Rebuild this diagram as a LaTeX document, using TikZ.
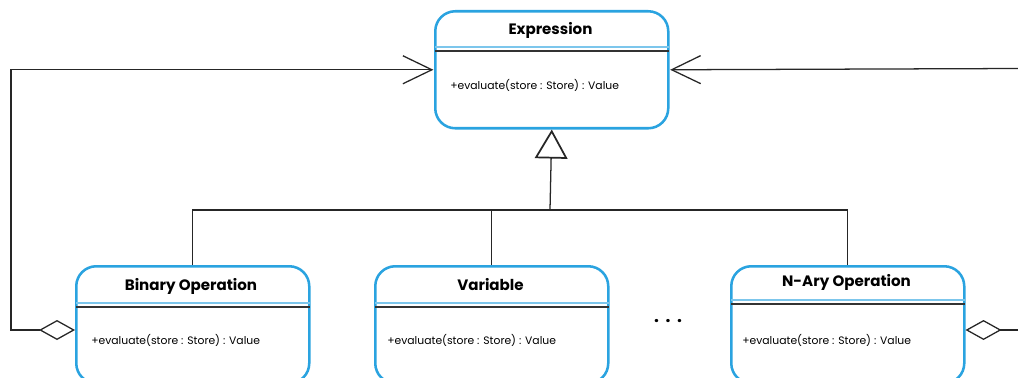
\documentclass[tikz,border=0pt]{standalone}
\usepackage{fontspec}
\setmainfont{Poppins}
\usetikzlibrary{arrows.meta,calc}
\definecolor{umlblue}{HTML}{2AA3E0}
\definecolor{seplight}{HTML}{7CC6EC}
\tikzset{
  cls/.style={draw=umlblue, line width=1.9pt, rounded corners=15pt, fill=white,
    minimum width=174.75pt, minimum height=87.75pt, inner sep=0pt, anchor=north west},
  title/.style={font=\bfseries\fontsize{11.3}{13}\selectfont, inner sep=0pt},
  meth/.style={font=\fontsize{8.1}{10}\selectfont, inner sep=0pt, anchor=west},
  sepblue/.style={draw=seplight, line width=0.8pt},
  sepblack/.style={draw=black!80, line width=0.9pt},
  conn/.style={draw=black!85, line width=0.95pt},
  barb/.style={-{Straight Barb[length=21.75pt, width=21pt, line width=0.95pt]}},
  inh/.style={-{Triangle[open, length=21.75pt, width=24.5pt, line width=1.3pt]}},
  agg/.style={{Diamond[open, length=27pt, width=15pt, line width=0.95pt]}-},
  aggbarb/.style={{Diamond[open, length=27pt, width=15pt, line width=0.95pt]}-{Straight Barb[length=21.75pt, width=21pt, line width=0.95pt]}}
}
\begin{document}
\begin{tikzpicture}[x=0.75pt,y=-0.75pt]
\useasboundingbox (0,0) rectangle (1018,378);
\clip (0,0) rectangle (1018,378);
\fill[white] (0,0) rectangle (1018,378);

% boxes
\node[cls] (expr) at (434,10) {};
\node[cls] (bin) at (75,265) {};
\node[cls] (var) at (374,265) {};
\node[cls] (nary) at (730,265) {};

% Expression
\node[title] (exprT) at (550.5,30) {Expression};
\draw[sepblue] ($(expr.north west)+(1,37)$) -- ($(expr.north east)+(-1,37)$);
\draw[sepblack] ($(expr.north west)+(1,41)$) -- ($(expr.north east)+(-1,41)$);
\node[meth] (exprM) at (450,85) {+evaluate(store : Store) : Value};

% Binary Operation
\node[title] (binT) at (191,286) {Binary Operation};
\draw[sepblue] ($(bin.north west)+(1,38)$) -- ($(bin.north east)+(-1,38)$);
\draw[sepblack] ($(bin.north west)+(1,42)$) -- ($(bin.north east)+(-1,42)$);
\node[meth] (binM) at (91,340) {+evaluate(store : Store) : Value};

% Variable
\node[title] (varT) at (490.5,285) {Variable};
\draw[sepblue] ($(var.north west)+(1,38)$) -- ($(var.north east)+(-1,38)$);
\draw[sepblack] ($(var.north west)+(1,42)$) -- ($(var.north east)+(-1,42)$);
\node[meth] (varM) at (387,340) {+evaluate(store : Store) : Value};

% N-Ary Operation
\node[title] (naryT) at (846.5,282) {N-Ary Operation};
\draw[sepblue] ($(nary.north west)+(1,35)$) -- ($(nary.north east)+(-1,35)$);
\draw[sepblack] ($(nary.north west)+(1,39)$) -- ($(nary.north east)+(-1,39)$);
\node[meth] (naryM) at (742,340) {+evaluate(store : Store) : Value};

% dots
\node[font=\bfseries\fontsize{13}{15}\selectfont, inner sep=0pt] (dots) at (668,321) {.\hspace{5pt}.\hspace{5pt}.};

% inheritance
\coordinate (bus) at (550,210);
\draw[conn] (bin.north) |- (bus);
\draw[conn] (var.north) |- (bus);
\draw[conn] (nary.north) |- (bus);
\draw[conn, inh] (bus) -- (expr.south);

% aggregations
\coordinate (leftTurn) at (11,330);
\draw[conn, aggbarb] ($(bin.north west)+(0,65)$) -- (leftTurn) |- ([xshift=-0.5pt]expr.west);
\coordinate (rightEnd1) at (1020,68.5);
\coordinate (rightEnd2) at (1020,330);
\draw[conn, barb] (rightEnd1) -- ([xshift=0.5pt]expr.east);
\draw[conn, agg] ($(nary.north east)+(0,65)$) -- (rightEnd2);
\end{tikzpicture}
\end{document}
